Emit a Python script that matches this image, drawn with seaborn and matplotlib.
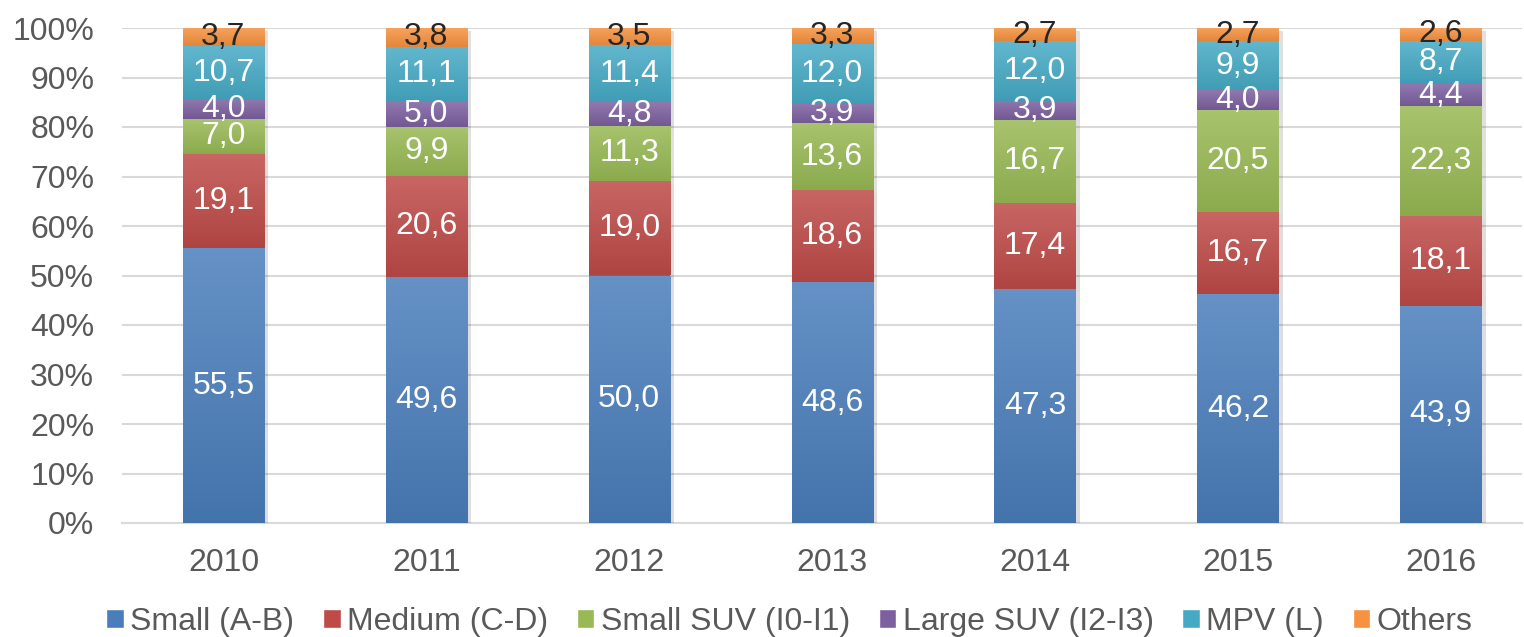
import numpy as np
import matplotlib
matplotlib.use('Agg')
import matplotlib.pyplot as plt
import matplotlib.patheffects as pe
from matplotlib.patches import Patch
from matplotlib.colors import LinearSegmentedColormap, to_rgb
import seaborn as sns

years = ['2010', '2011', '2012', '2013', '2014', '2015', '2016']
small = [55.5, 49.6, 50.0, 48.6, 47.3, 46.2, 43.9]
medium = [19.1, 20.6, 19.0, 18.6, 17.4, 16.7, 18.1]
small_suv = [7.0, 9.9, 11.3, 13.6, 16.7, 20.5, 22.3]
large_suv = [4.0, 5.0, 4.8, 3.9, 3.9, 4.0, 4.4]
mpv = [10.7, 11.1, 11.4, 12.0, 12.0, 9.9, 8.7]
others = [3.7, 3.8, 3.5, 3.3, 2.7, 2.7, 2.6]

series = ['Small (A-B)', 'Medium (C-D)', 'Small SUV (I0-I1)', 'Large SUV (I2-I3)', 'MPV (L)', 'Others']
values = [small, medium, small_suv, large_suv, mpv, others]
colors = ['#4a7ebb', '#be4b48', '#98b954', '#7d60a0', '#46aac5', '#f69240']
label_colors = ['white', 'white', 'white', 'white', 'white', '#262626']


def shade(c, f):
    r = np.array(to_rgb(c))
    if f > 0:
        return tuple(r + (1 - r) * f)
    return tuple(r * (1 + f))


sns.set_style('white')
plt.rcParams['font.family'] = ['Liberation Sans', 'DejaVu Sans']

fig = plt.figure(figsize=(15.24, 6.37), dpi=100)
ax = fig.add_axes([122 / 1524, 114 / 637, 1400 / 1524, 495 / 637])

grad = np.linspace(1, 0, 64).reshape(-1, 1)
bottom = np.zeros(len(years))
for name, vals, col, lc in zip(series, values, colors, label_colors):
    sns.barplot(x=years, y=vals, bottom=bottom, color=col, width=0.4,
                saturation=1, ax=ax, zorder=3, linewidth=0,
                path_effects=[pe.SimplePatchShadow(offset=(3, -2), alpha=0.15), pe.Normal()])
    cont = ax.containers[-1]
    cmap = LinearSegmentedColormap.from_list('g', [shade(col, -0.08), shade(col, 0.15)])
    for rect in cont:
        x0, y0 = rect.get_x(), rect.get_y()
        im = ax.imshow(grad, extent=(x0, x0 + rect.get_width(), y0, y0 + rect.get_height()),
                       cmap=cmap, aspect='auto', origin='upper', zorder=3.5,
                       interpolation='bilinear')
        im.set_clip_path(rect)
    ax.bar_label(cont, labels=[f'{v:.1f}'.replace('.', ',') for v in vals],
                 label_type='center', color=lc, fontsize=23, zorder=5)
    bottom = bottom + np.array(vals)

ax.set_xlim(-0.5, 6.4)
ax.set_ylim(0, 100)
ax.set_yticks(range(0, 101, 10))
ax.set_yticklabels([f'{t}%' for t in range(0, 101, 10)])
ax.tick_params(axis='both', length=0, labelsize=23, labelcolor='#595959')
ax.tick_params(axis='x', pad=18)
ax.tick_params(axis='y', pad=20)
ax.yaxis.grid(True, color='#d9d9d9', linewidth=1.5, zorder=0)
ax.set_axisbelow(True)
for s in ['top', 'right', 'left']:
    ax.spines[s].set_visible(False)
ax.spines['bottom'].set_color('#d9d9d9')
ax.spines['bottom'].set_linewidth(1.5)
ax.set_xlabel('')
ax.set_ylabel('')

handles = [Patch(facecolor=c, label=s) for s, c in zip(series, colors)]
fig.legend(handles=handles, loc='lower center', bbox_to_anchor=(0.518, -0.045), ncol=6,
           frameon=False, fontsize=23, labelcolor='#595959', handlelength=0.55, handleheight=0.55,
           handletextpad=0.2, columnspacing=0.9)

fig.savefig('out.png', dpi=100)
